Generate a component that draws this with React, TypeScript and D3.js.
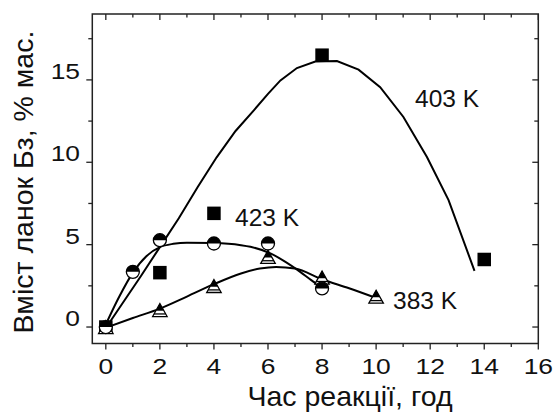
import React from "react";
import * as d3 from "d3";

// Measured points (time in hours, content in wt.%)
const squares403: [number, number][] = [[0, 0], [2, 3.3], [4, 6.9], [8, 16.5], [14, 4.1]];
const circles423: [number, number][] = [[0, 0], [1, 3.35], [2, 5.27], [4, 5.07], [6, 5.07], [8, 2.34]];
const triangles383: [number, number][] = [[0, 0], [2, 1.03], [4, 2.49], [6, 4.26], [8, 3.0], [10, 1.84]];

// Fitted trend lines
const fit403: [number, number][] = [
  [-0.1, -0.3], [0.6, 1.4], [1.3, 3.1], [2.0, 4.85], [2.7, 6.6], [3.4, 8.5], [4.1, 10.3],
  [4.8, 11.9], [5.5, 13.2], [6.0, 14.15], [6.46, 14.97], [7.07, 15.72], [7.75, 16.12],
  [8.55, 16.14], [9.35, 15.62], [10.15, 14.56], [11.01, 12.75], [11.88, 10.32],
  [12.68, 7.7], [13.64, 3.41],
];
const fit423: [number, number][] = [
  [-0.1, -0.2], [0.5, 1.85], [1.0, 3.3], [1.5, 4.3], [2.0, 4.85], [2.5, 5.05], [3.0, 5.12],
  [4.0, 5.1], [5.0, 4.97], [5.35, 4.87], [6.09, 4.47], [6.6, 4.0], [7.19, 3.35], [7.6, 2.85], [8.0, 2.4],
];
const fit383: [number, number][] = [
  [-0.1, -0.1], [1, 0.55], [2, 1.12], [3, 1.85], [4, 2.6], [5, 3.25], [5.7, 3.55], [6.3, 3.65],
  [7, 3.55], [8, 2.9], [9, 2.35], [10, 1.76],
];

const xTicks = [0, 2, 4, 6, 8, 10, 12, 14, 16];
const yTicks = [0, 5, 10, 15];
const xMinor = d3.range(0, 17, 1);
const yMinor = d3.range(0, 19, 2.5);

const seriesLabels = [
  { text: "403 K", x: 415, y: 107 },
  { text: "423 K", x: 235, y: 226 },
  { text: "383 K", x: 393, y: 309 },
];

const W = 555;
const H = 414;
const L = 92.3, R = 538.3, T = 14, B = 343.5;

export default function App() {
  const x = d3.scaleLinear().domain([-0.5, 16]).range([L, R]);
  const y = d3.scaleLinear().domain([-1, 19]).range([B, T]);
  const font = "'Liberation Sans', Arial, sans-serif";

  const polyline = d3.line<[number, number]>().x(d => x(d[0])).y(d => y(d[1]));
  const smooth = d3
    .line<[number, number]>()
    .x(d => x(d[0]))
    .y(d => y(d[1]))
    .curve(d3.curveMonotoneX);

  const sq = 13.5;
  const cr = 6.5;
  const tw = 14.5, th = 13;
  const stretch = 1.2; // tick numerals are set slightly wide

  return (
    <svg
      width={W}
      height={H}
      style={{ position: "absolute", left: 0, top: 0, background: "#fff" }}
      fontFamily={font}
    >
      {/* frame */}
      <rect x={L} y={T} width={R - L} height={B - T} fill="none" stroke="#222" strokeWidth={1.5} />

      {/* bottom axis ticks (outward) and top axis ticks (inward) */}
      {xMinor.map(v => {
        const major = v % 2 === 0;
        const len = major ? 6 : 3.5;
        return (
          <g key={"xt" + v}>
            <line x1={x(v)} x2={x(v)} y1={B} y2={B + len} stroke="#222" strokeWidth={1.3} />
            <line x1={x(v)} x2={x(v)} y1={T} y2={T + len} stroke="#222" strokeWidth={1.3} />
          </g>
        );
      })}
      {/* left axis ticks (outward) and right axis ticks (inward) */}
      {yMinor.map(v => {
        const major = v % 5 === 0;
        const len = major ? 6 : 4;
        return (
          <g key={"yt" + v}>
            <line x1={L - len} x2={L} y1={y(v)} y2={y(v)} stroke="#222" strokeWidth={1.3} />
            <line x1={R - len} x2={R} y1={y(v)} y2={y(v)} stroke="#222" strokeWidth={1.3} />
          </g>
        );
      })}

      {xTicks.map(v => (
        <text
          key={"xl" + v}
          transform={`translate(${x(v)},374) scale(${stretch},1)`}
          fontSize={22}
          textAnchor="middle"
          fill="#111"
        >
          {v}
        </text>
      ))}
      {yTicks.map(v => (
        <text
          key={"yl" + v}
          transform={`translate(80,${y(v) - 1}) scale(${stretch},1)`}
          fontSize={22}
          textAnchor="end"
          fill="#111"
        >
          {v}
        </text>
      ))}

      <text x={350} y={406} fontSize={28.5} textAnchor="middle" fill="#111">
        Час реакції, год
      </text>
      <text
        transform={`translate(33,182) rotate(-90)`}
        fontSize={28.5}
        textAnchor="middle"
        fill="#111"
      >
        Вміст ланок Бз, % мас.
      </text>

      {/* trend lines */}
      <g fill="none" stroke="#000" strokeWidth={2}>
        <path d={polyline(fit403) || ""} />
        <path d={smooth(fit423) || ""} />
        <path d={smooth(fit383) || ""} />
      </g>

      {/* 403 K: filled squares */}
      {squares403.map((d, i) => (
        <rect key={"s" + i} x={x(d[0]) - sq / 2} y={y(d[1]) - sq / 2} width={sq} height={sq} fill="#000" />
      ))}

      {/* 383 K: half-filled triangles */}
      {triangles383.map((d, i) => {
        const cx = x(d[0]);
        const cy = y(d[1]);
        const top = cy - th / 2;
        const bot = cy + th / 2;
        const half = (f: number) => (tw / 2) * f;
        const yb = top + th * 0.55;
        const ys = top + th * 0.8;
        return (
          <g key={"t" + i}>
            <path
              d={`M${cx},${top}L${cx + tw / 2},${bot}L${cx - tw / 2},${bot}Z`}
              fill="#fff"
              stroke="#000"
              strokeWidth={1.3}
            />
            <path d={`M${cx},${top}L${cx + half(0.55)},${yb}L${cx - half(0.55)},${yb}Z`} fill="#000" />
            <line x1={cx - half(0.8)} x2={cx + half(0.8)} y1={ys} y2={ys} stroke="#000" strokeWidth={1.3} />
          </g>
        );
      })}

      {/* 423 K: half-filled circles */}
      {circles423.map((d, i) => {
        const cx = x(d[0]);
        const cy = y(d[1]);
        return (
          <g key={"c" + i}>
            <circle cx={cx} cy={cy} r={cr} fill="#fff" stroke="#000" strokeWidth={1.3} />
            <path d={`M${cx - cr},${cy}A${cr},${cr} 0 0 1 ${cx + cr},${cy}Z`} fill="#000" />
          </g>
        );
      })}

      {seriesLabels.map(l => (
        <text key={l.text} x={l.x} y={l.y} fontSize={24.5} fill="#111">
          {l.text}
        </text>
      ))}
    </svg>
  );
}
